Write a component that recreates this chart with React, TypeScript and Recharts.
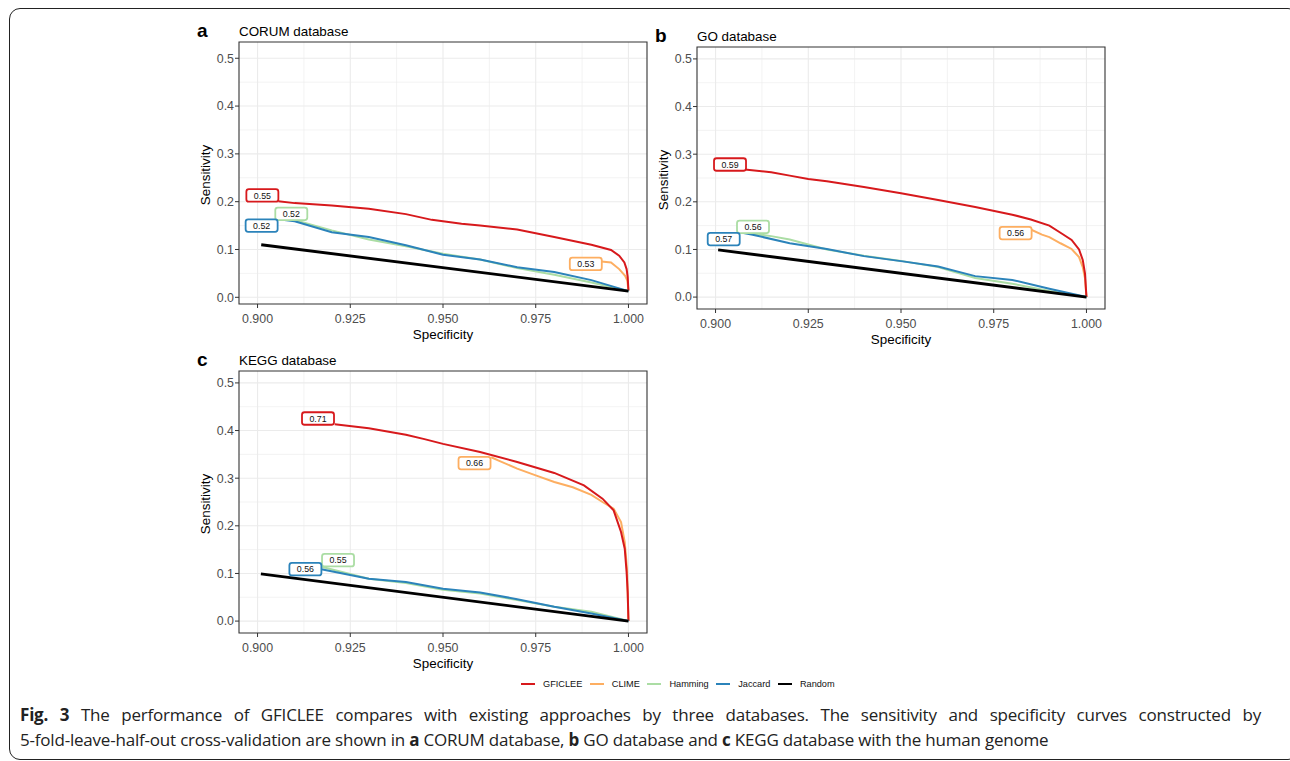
import React from "react";
import {
  LineChart,
  Line,
  XAxis,
  YAxis,
  CartesianGrid,
  ReferenceArea,
  ReferenceDot,
} from "recharts";

// series names + colours (Spectral-ish palette, as in the figure)
const SERIES = ["GFICLEE", "CLIME", "Hamming", "Jaccard", "Random"];
const COLORS = ["#d7191c", "#fdae61", "#abdda4", "#2b83ba", "#000000"];

const X_TICKS = [0.9, 0.925, 0.95, 0.975, 1.0];
const X_MINOR = [0.9125, 0.9375, 0.9625, 0.9875];
const Y_TICKS = [0, 0.1, 0.2, 0.3, 0.4, 0.5];
const Y_MINOR = [0.05, 0.15, 0.25, 0.35, 0.45];

// [specificity, sensitivity]
const CORUM_GFICLEE = [[0.9056, 0.201], [0.91, 0.197], [0.92, 0.192], [0.93, 0.185], [0.94, 0.174], [0.947, 0.162], [0.955, 0.154], [0.96, 0.15], [0.97, 0.142], [0.98, 0.126], [0.99, 0.11], [0.9953, 0.099], [0.9975, 0.087], [0.9989, 0.073], [0.9995, 0.059], [0.9998, 0.042], [1.0, 0.014]];
const CORUM_CLIME = [[0.9927, 0.075], [0.9953, 0.073], [0.9975, 0.059], [0.9991, 0.045], [0.9997, 0.035], [1.0, 0.014]];
const CORUM_HAMMING = [[0.9085, 0.165], [0.92, 0.14], [0.93, 0.121], [0.94, 0.107], [0.95, 0.091], [0.96, 0.079], [0.97, 0.061], [0.98, 0.047], [0.99, 0.031], [1.0, 0.013]];
const CORUM_JACCARD = [[0.9056, 0.163], [0.91, 0.159], [0.92, 0.136], [0.93, 0.126], [0.94, 0.109], [0.95, 0.089], [0.96, 0.079], [0.97, 0.063], [0.98, 0.053], [0.99, 0.036], [1.0, 0.013]];
const CORUM_RANDOM = [[0.901, 0.11], [1.0, 0.013]];

const GO_GFICLEE = [[0.9079, 0.268], [0.915, 0.262], [0.92, 0.255], [0.925, 0.248], [0.93, 0.243], [0.94, 0.231], [0.95, 0.218], [0.96, 0.204], [0.97, 0.189], [0.98, 0.173], [0.985, 0.163], [0.99, 0.15], [0.993, 0.135], [0.996, 0.12], [0.998, 0.1], [0.999, 0.078], [0.9996, 0.05], [1.0, 0.0]];
const GO_CLIME = [[0.9847, 0.143], [0.988, 0.131], [0.99, 0.126], [0.993, 0.113], [0.996, 0.101], [0.998, 0.084], [0.999, 0.063], [0.9996, 0.04], [1.0, 0.0]];
const GO_HAMMING = [[0.9074, 0.136], [0.915, 0.128], [0.92, 0.121], [0.93, 0.1], [0.94, 0.087], [0.95, 0.076], [0.96, 0.063], [0.97, 0.04], [0.98, 0.028], [0.99, 0.013], [1.0, 0.0]];
const GO_JACCARD = [[0.9065, 0.136], [0.91, 0.131], [0.92, 0.113], [0.93, 0.101], [0.94, 0.086], [0.95, 0.0755], [0.96, 0.064], [0.97, 0.044], [0.98, 0.036], [0.99, 0.0175], [1.0, 0.0]];
const GO_RANDOM = [[0.9007, 0.099], [1.0, 0.0]];

const KEGG_GFICLEE = [[0.9208, 0.413], [0.93, 0.405], [0.94, 0.391], [0.945, 0.382], [0.95, 0.372], [0.96, 0.355], [0.97, 0.334], [0.98, 0.311], [0.988, 0.285], [0.993, 0.257], [0.996, 0.2325], [0.998, 0.187], [0.999, 0.152], [0.9995, 0.103], [0.9998, 0.06], [1.0, 0.0]];
const KEGG_CLIME = [[0.963, 0.344], [0.965, 0.337], [0.97, 0.32], [0.975, 0.306], [0.98, 0.292], [0.985, 0.281], [0.99, 0.265], [0.993, 0.25], [0.996, 0.236], [0.998, 0.208], [0.999, 0.166], [0.9996, 0.11], [1.0, 0.0]];
const KEGG_HAMMING = [[0.9172, 0.114], [0.93, 0.089], [0.94, 0.08], [0.95, 0.066], [0.96, 0.058], [0.97, 0.044], [0.98, 0.03], [0.99, 0.0196], [1.0, 0.0]];
const KEGG_JACCARD = [[0.9172, 0.109], [0.93, 0.089], [0.94, 0.082], [0.95, 0.068], [0.96, 0.06], [0.97, 0.046], [0.98, 0.03], [0.99, 0.016], [1.0, 0.0]];
const KEGG_RANDOM = [[0.9009, 0.099], [1.0, 0.0]];

// AUC label boxes: [series index, specificity, sensitivity, text]
const CORUM_LABELS = [[0, 0.9013, 0.213, "0.55"], [1, 0.9885, 0.0698, "0.53"], [2, 0.9091, 0.1746, "0.52"], [3, 0.9011, 0.15, "0.52"]];
const GO_LABELS = [[0, 0.9039, 0.2783, "0.59"], [1, 0.9809, 0.1343, "0.56"], [2, 0.9101, 0.1476, "0.56"], [3, 0.9022, 0.1217, "0.57"]];
const KEGG_LABELS = [[0, 0.9163, 0.4253, "0.71"], [1, 0.9585, 0.3317, "0.66"], [2, 0.9217, 0.1278, "0.55"], [3, 0.9129, 0.1089, "0.56"]];

const FONT = "'Liberation Sans', Arial, Helvetica, sans-serif";
const X_DOMAIN = [0.895, 1.005];
const PLOT_W = 408;
const PLOT_H = 262;

const toPts = (pairs: number[][]) => pairs.map(([x, y]) => ({ x, y }));

function LabelBox(props: any) {
  const { cx, cy, color, text } = props;
  if (cx == null || cy == null) return null;
  const w = 32;
  const h = 12.5;
  return (
    <g>
      <rect x={cx - w / 2} y={cy - h / 2} width={w} height={h} rx={2.5} fill="#fff" stroke={color} strokeWidth={1.8} />
      <text x={cx} y={cy + 3.1} textAnchor="middle" fontSize={8.8} fontFamily={FONT} fill="#111">{text}</text>
    </g>
  );
}

function Panel({ left, top, letter, title, yDomain, series, labels }: any) {
  // draw order: CLIME under GFICLEE, Random on top
  const order = [1, 0, 2, 3, 4];
  return (
    <>
      <div style={{ position: "absolute", left: left - 42, top: top - 21, fontFamily: FONT, fontWeight: 700, fontSize: 19, lineHeight: "20px" }}>{letter}</div>
      <div style={{ position: "absolute", left: left, top: top - 18, fontFamily: FONT, fontSize: 13.4, lineHeight: "15px" }}>{title}</div>
      <div style={{ position: "absolute", left: left - 50, top: top - 10 }}>
        <LineChart width={50 + PLOT_W + 10} height={10 + PLOT_H + 45} margin={{ top: 10, right: 10, bottom: 0, left: 0 }}>
          <CartesianGrid stroke="#ebebeb" strokeWidth={0.6} verticalValues={X_MINOR} horizontalValues={Y_MINOR} />
          <CartesianGrid stroke="#ebebeb" strokeWidth={1.1} verticalValues={X_TICKS} horizontalValues={Y_TICKS} />
          <XAxis
            dataKey="x"
            type="number"
            domain={X_DOMAIN}
            ticks={X_TICKS}
            allowDataOverflow
            tickFormatter={(v: number) => v.toFixed(3)}
            axisLine={false}
            tickLine={{ stroke: "#333" }}
            tickSize={4}
            tickMargin={6}
            height={45}
            tick={{ fill: "#4d4d4d", fontSize: 12.4, fontFamily: FONT }}
            label={{
              content: ({ viewBox }: any) => (
                <text x={viewBox.x + viewBox.width / 2} y={viewBox.y + 35} textAnchor="middle" fontSize={13.4} fontFamily={FONT} fill="#000">Specificity</text>
              ),
            }}
          />
          <YAxis
            type="number"
            domain={yDomain}
            ticks={Y_TICKS}
            allowDataOverflow
            tickFormatter={(v: number) => v.toFixed(1)}
            axisLine={false}
            tickLine={{ stroke: "#333" }}
            tickSize={4}
            tickMargin={1}
            width={50}
            tick={{ fill: "#4d4d4d", fontSize: 12.4, fontFamily: FONT }}
            label={{
              content: ({ viewBox }: any) => {
                const x = viewBox.x + 21;
                const y = viewBox.y + viewBox.height / 2 + 2;
                return (
                  <text x={x} y={y} transform={`rotate(-90, ${x}, ${y})`} textAnchor="middle" fontSize={13.4} fontFamily={FONT} fill="#000">Sensitivity</text>
                );
              },
            }}
          />
          <ReferenceArea x1={X_DOMAIN[0]} x2={X_DOMAIN[1]} y1={yDomain[0]} y2={yDomain[1]} fill="none" fillOpacity={0} stroke="#333" strokeWidth={1.1} ifOverflow="visible" />
          {order.map((i) => (
            <Line
              key={SERIES[i]}
              data={toPts(series[i])}
              dataKey="y"
              name={SERIES[i]}
              type="linear"
              stroke={COLORS[i]}
              strokeWidth={i === 4 ? 2.9 : 2}
              dot={false}
              activeDot={false}
              isAnimationActive={false}
            />
          ))}
          {labels.map(([si, x, y, text]: any, k: number) => (
            <ReferenceDot
              key={k}
              x={x}
              y={y}
              r={1}
              ifOverflow="visible"
              shape={(p: any) => <LabelBox {...p} color={COLORS[si]} text={text} />}
            />
          ))}
        </LineChart>
      </div>
    </>
  );
}

export default function App() {
  return (
    <div style={{ position: "absolute", left: 0, top: 0, width: 1290, height: 761, background: "#fff", overflow: "hidden" }}>
      <div style={{ position: "absolute", left: 9, top: 8, width: 1290, height: 752, border: "1.5px solid #222", borderRadius: 11, boxSizing: "border-box" }} />
      <Panel
        left={239}
        top={42}
        letter="a"
        title="CORUM database"
        yDomain={[-0.014, 0.534]}
        series={[CORUM_GFICLEE, CORUM_CLIME, CORUM_HAMMING, CORUM_JACCARD, CORUM_RANDOM]}
        labels={CORUM_LABELS}
      />
      <Panel
        left={697}
        top={47}
        letter="b"
        title="GO database"
        yDomain={[-0.025, 0.525]}
        series={[GO_GFICLEE, GO_CLIME, GO_HAMMING, GO_JACCARD, GO_RANDOM]}
        labels={GO_LABELS}
      />
      <Panel
        left={239}
        top={371}
        letter="c"
        title="KEGG database"
        yDomain={[-0.025, 0.525]}
        series={[KEGG_GFICLEE, KEGG_CLIME, KEGG_HAMMING, KEGG_JACCARD, KEGG_RANDOM]}
        labels={KEGG_LABELS}
      />
      <div style={{ position: "absolute", left: 521, top: 679, display: "flex", alignItems: "center", fontFamily: FONT, fontSize: 9.2, color: "#111", whiteSpace: "nowrap" }}>
        {SERIES.map((s, i) => (
          <div key={s} style={{ display: "flex", alignItems: "center", marginRight: 7.5 }}>
            <div style={{ width: 14, height: 2, background: COLORS[i], marginRight: 8 }} />
            <span>{s}</span>
          </div>
        ))}
      </div>
      <div style={{ position: "absolute", left: 20, top: 703, width: 1241, fontFamily: "'Open Sans', 'Noto Sans', sans-serif", fontSize: 17, letterSpacing: -0.2, lineHeight: "24.7px", color: "#222" }}>
        <div style={{ textAlign: "justify", textAlignLast: "justify" }}><b>Fig. 3</b> The performance of GFICLEE compares with existing approaches by three databases. The sensitivity and specificity curves constructed by</div>
        <div style={{ whiteSpace: "nowrap" }}>5-fold-leave-half-out cross-validation are shown in <b>a</b> CORUM database, <b>b</b> GO database and <b>c</b> KEGG database with the human genome</div>
      </div>
    </div>
  );
}
